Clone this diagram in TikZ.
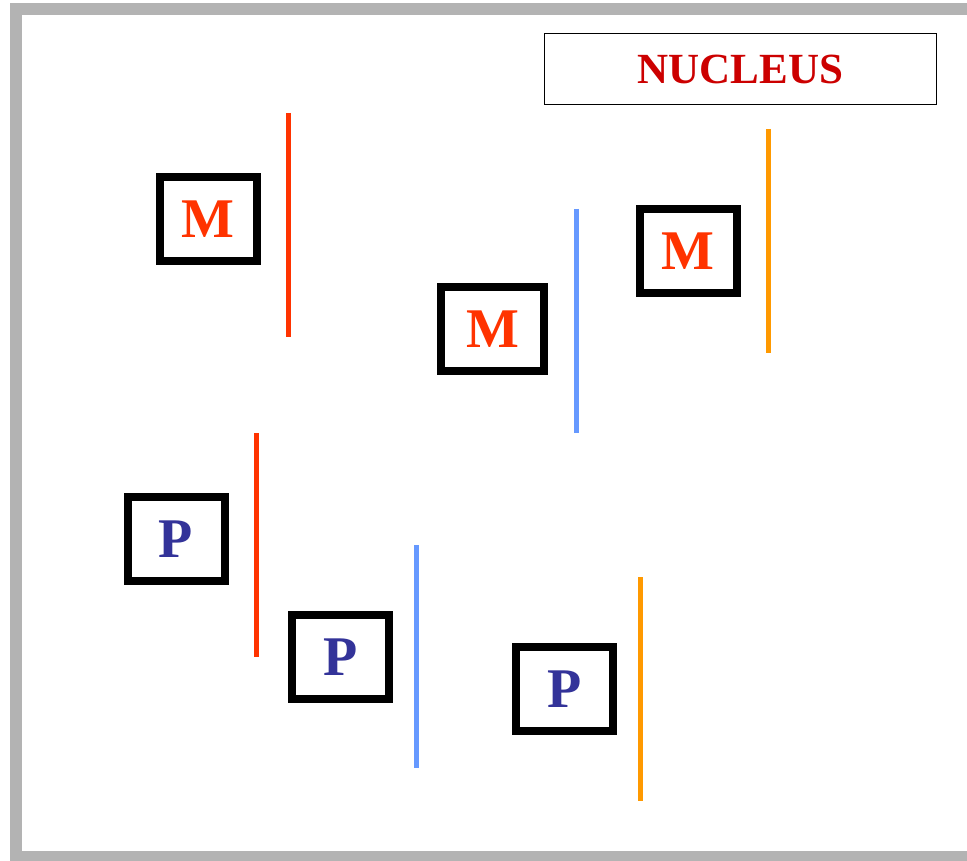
\documentclass[tikz,border=0pt]{standalone}
\usepackage{fontspec}
\setmainfont{Liberation Serif}
\usetikzlibrary{positioning}
\definecolor{mcol}{HTML}{FF3300}
\definecolor{pcol}{HTML}{333399}
\definecolor{ncol}{HTML}{CC0000}
\definecolor{bluecol}{HTML}{6699FF}
\definecolor{orangecol}{HTML}{FF9900}
\definecolor{framecol}{HTML}{B3B3B3}
\tikzstyle{block} = [draw, line width=8pt, rectangle, minimum width=97pt, minimum height=84pt, inner sep=0pt, font=\fontsize{56}{56}\selectfont\bfseries]
\tikzstyle{mbox} = [block, text=mcol]
\tikzstyle{pbox} = [block, text=pcol]
\tikzstyle{strand} = [line width=5pt]

\begin{document}
\begin{tikzpicture}[x=1pt, y=-1pt]

\clip (0,0) rectangle (967,861);
\fill [white] (0,0) rectangle (967,861);
\draw [framecol, line width=12pt] (16,9) rectangle (990,857);

\node [draw, line width=1.5pt, minimum width=392pt, minimum height=71pt, inner sep=0pt, text=ncol, font=\fontsize{43}{43}\selectfont\bfseries] (nucleus) at (740.5,69) {NUCLEUS};

\node [mbox] (m1) at (208,219.5) {M};
\node [mbox, minimum width=103pt] (m2) at (492.5,329) {M};
\node [mbox] (m3) at (688,251) {M};

\node [pbox] (p1) at (176,539) {P};
\node [pbox] (p2) at (340.5,657) {P};
\node [pbox] (p3) at (564.5,689) {P};

\draw [strand, mcol] (288,113) -- (288,337);
\draw [strand, bluecol] (576,209) -- (576,433);
\draw [strand, orangecol] (768,129) -- (768,353);

\draw [strand, mcol] (256,433) -- (256,657);
\draw [strand, bluecol] (416,545) -- (416,768);
\draw [strand, orangecol] (640,577) -- (640,801);

\end{tikzpicture}
\end{document}
